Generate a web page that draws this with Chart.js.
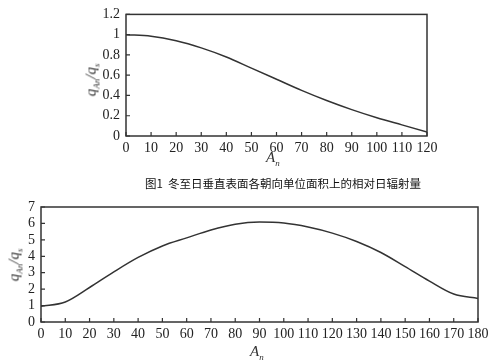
<!DOCTYPE html>
<html>
<head>
<meta charset="utf-8">
<script src="https://cdn.jsdelivr.net/npm/chart.js@4"></script>
<style>
  body { margin: 0; background: #fff; }
  #wrap { position: relative; width: 500px; height: 363px; overflow: hidden; }
  canvas { position: absolute; left: 0; }
  .lbl { position: absolute; font-family: "Liberation Serif", serif; font-style: italic; font-size: 15px; color: #333; white-space: nowrap; }
  .lbl sub { font-size: 9px; }
  .rot { transform: translate(-50%, -50%) rotate(-90deg); }
  .cap { position: absolute; left: 145px; top: 175px; font-family: "Noto Sans CJK SC", sans-serif; font-size: 11.5px; color: #111; white-space: nowrap; }
</style>
</head>
<body>
<div id="wrap">
  <canvas id="topChart" style="top:0" width="500" height="170"></canvas>
  <canvas id="botChart" style="top:190px" width="500" height="173"></canvas>
  <div class="lbl rot" style="left:92px; top:80px;">q<sub>An</sub>/q<sub>s</sub></div>
  <div class="lbl" style="left:266px; top:149px;">A<sub>n</sub></div>
  <div class="cap">图1&nbsp; 冬至日垂直表面各朝向单位面积上的相对日辐射量</div>
  <div class="lbl rot" style="left:15px; top:265px;">q<sub>An</sub>/q<sub>s</sub></div>
  <div class="lbl" style="left:250px; top:343px;">A<sub>n</sub></div>
</div>
<script>
// orientation angles (deg) and relative daily radiation
var topAngles = [0, 10, 20, 30, 40, 50, 60, 70, 80, 90, 100, 110, 120];
var topValues = [1.0, 0.985, 0.94, 0.87, 0.78, 0.67, 0.56, 0.45, 0.35, 0.26, 0.18, 0.11, 0.04];

var botAngles = [0, 10, 20, 30, 40, 50, 60, 70, 80, 90, 100, 110, 120, 130, 140, 150, 160, 170, 180];
var botValues = [0.96, 1.22, 2.1, 3.05, 3.93, 4.63, 5.12, 5.6, 5.95, 6.08, 6.02, 5.78, 5.41, 4.9, 4.23, 3.37, 2.49, 1.7, 1.43];

// box frame + inward tick marks
var framePlugin = {
  id: 'frame',
  afterDraw: function(chart) {
    var ctx = chart.ctx, a = chart.chartArea;
    var xs = chart.scales.x, ys = chart.scales.y;
    ctx.save();
    ctx.strokeStyle = '#333';
    ctx.lineWidth = 1.5;
    ctx.strokeRect(a.left, a.top, a.right - a.left, a.bottom - a.top);
    ctx.lineWidth = 1.2;
    ctx.beginPath();
    xs.ticks.forEach(function(t) {
      var px = xs.getPixelForValue(t.value);
      ctx.moveTo(px, a.bottom);
      ctx.lineTo(px, a.bottom - 4);
    });
    ys.ticks.forEach(function(t) {
      var py = ys.getPixelForValue(t.value);
      ctx.moveTo(a.left, py);
      ctx.lineTo(a.left + 4, py);
    });
    ctx.stroke();
    ctx.restore();
  }
};

function makePoints(xs, ys) {
  return xs.map(function(x, i) { return { x: x, y: ys[i] }; });
}

function makeConfig(points, xMax, yMax, yStep, pad, yWidth, xHeight, yFmt) {
  var tickFont = { family: '"Liberation Serif", serif', size: 14 };
  return {
    type: 'line',
    data: {
      datasets: [{
        data: points,
        borderColor: '#333',
        borderWidth: 1.5,
        pointRadius: 0,
        cubicInterpolationMode: 'monotone',
        fill: false
      }]
    },
    options: {
      responsive: false,
      animation: false,
      layout: { padding: pad },
      plugins: { legend: { display: false }, tooltip: { enabled: false } },
      scales: {
        x: {
          type: 'linear',
          min: 0, max: xMax,
          grid: { display: false, drawTicks: false },
          border: { display: false },
          ticks: { stepSize: 10, color: '#222', font: tickFont, padding: 4, maxRotation: 0, autoSkip: false },
          afterFit: function(s) { s.height = xHeight; }
        },
        y: {
          min: 0, max: yMax,
          grid: { display: false, drawTicks: false },
          border: { display: false },
          ticks: { stepSize: yStep, color: '#222', font: tickFont, padding: 6, autoSkip: false, callback: yFmt },
          afterFit: function(s) { s.width = yWidth; }
        }
      }
    },
    plugins: [framePlugin]
  };
}

var topCtx = document.getElementById('topChart');
new Chart(topCtx, makeConfig(makePoints(topAngles, topValues), 120, 1.2, 0.2,
  { left: 0, top: 12, right: 73, bottom: 0 }, 126, 34,
  function(v) { return Math.round(v * 10) / 10; }));

var botCtx = document.getElementById('botChart');
new Chart(botCtx, makeConfig(makePoints(botAngles, botValues), 180, 7, 1,
  { left: 0, top: 17, right: 22, bottom: 0 }, 41, 41,
  function(v) { return v; }));
</script>
</body>
</html>
